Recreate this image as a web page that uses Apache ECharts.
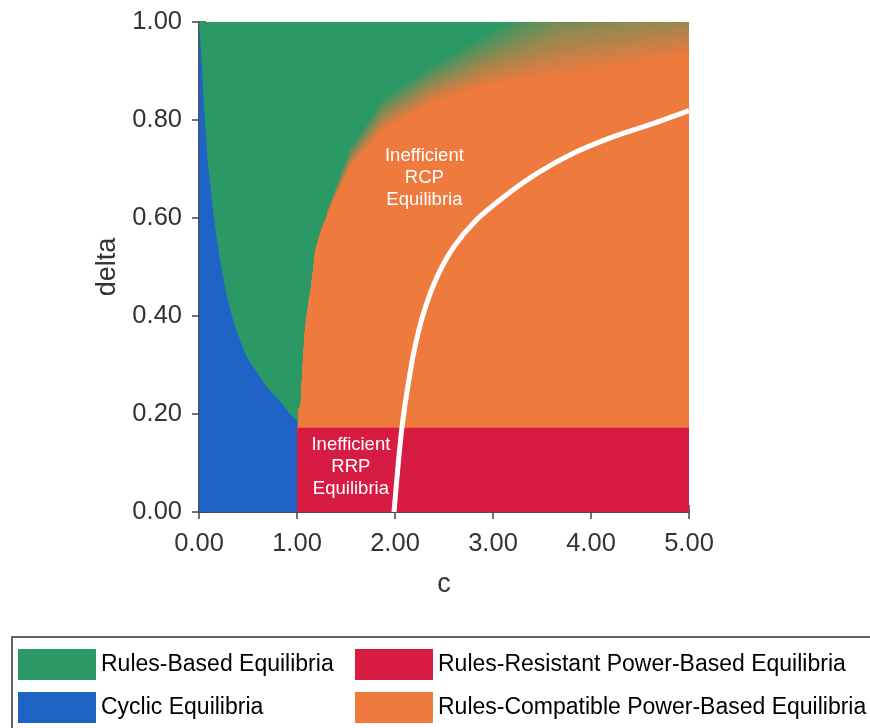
<!DOCTYPE html>
<html>
<head>
<meta charset="utf-8">
<script src="https://cdn.jsdelivr.net/npm/echarts@6/dist/echarts.min.js"></script>
<style>
  html, body { margin: 0; padding: 0; background: #fff; }
  #chart { width: 870px; height: 728px; }
</style>
</head>
<body>
<div id="chart"></div>
<script>
var xTickLabels = ['0.00', '1.00', '2.00', '3.00', '4.00', '5.00'];
var yTickLabels = ['0.00', '0.20', '0.40', '0.60', '0.80', '1.00'];

// left edge of the blue (cyclic) region, c in [0, 1]
var cyclicC = [0, 0.01, 0.03, 0.05, 0.09, 0.12, 0.14, 0.19, 0.24, 0.29, 0.35, 0.42, 0.49, 0.59, 0.69, 0.81, 0.93, 1.0];
var cyclicD = [1.0, 0.97, 0.91, 0.83, 0.71, 0.66, 0.62, 0.545, 0.485, 0.435, 0.39, 0.35, 0.315, 0.285, 0.255, 0.23, 0.2, 0.185];

// sharp part of the green / orange border
var rcpC = [1.0, 1.01, 1.03, 1.05, 1.07, 1.09, 1.14, 1.18, 1.25, 1.3];
var rcpD = [0.172, 0.21, 0.22, 0.30, 0.365, 0.40, 0.467, 0.535, 0.582, 0.605];

// blurred part of the border: where pure green ends and pure orange starts
var blendC = [1.3, 1.54, 1.88, 2.39, 2.9, 3.68, 4.4, 5.0];
var greenEdge = [0.615, 0.745, 0.847, 0.916, 0.975, 1.07, 1.09, 1.09];
var orangeEdge = [0.605, 0.704, 0.78, 0.835, 0.867, 0.89, 0.91, 0.933];

// top of the red (RRP) band
var rrpC = [1.0, 5.0];
var rrpD = [0.172, 0.172];

// white threshold curve
var curveC = [1.99, 2.03, 2.07, 2.12, 2.19, 2.29, 2.43, 2.60, 2.83, 3.11, 3.45, 3.82, 4.23, 4.64, 5.0];
var curveD = [0.0, 0.092, 0.171, 0.242, 0.324, 0.405, 0.48, 0.541, 0.596, 0.643, 0.691, 0.732, 0.766, 0.793, 0.819];

var noteC = [2.3, 1.55];
var noteD = [0.682, 0.092];
var noteText = ['Inefficient\nRCP\nEquilibria', 'Inefficient\nRRP\nEquilibria'];

var GREEN = '#2a9966';
var BLUE = '#1f63c7';
var RED = '#d81b42';
var ORANGE = '#ef7a3e';
var FONT = '"Liberation Sans", Arial, sans-serif';
var BLEND_STEPS = 32;

var chart = echarts.init(document.getElementById('chart'));

function mix(a, b, t) {
  var pa = [parseInt(a.substr(1, 2), 16), parseInt(a.substr(3, 2), 16), parseInt(a.substr(5, 2), 16)];
  var pb = [parseInt(b.substr(1, 2), 16), parseInt(b.substr(3, 2), 16), parseInt(b.substr(5, 2), 16)];
  return 'rgb(' + pa.map(function (v, i) {
    return Math.round(v + (pb[i] - v) * t);
  }).join(',') + ')';
}

function orangeArea(params, api) {
  return {
    type: 'polygon',
    shape: { points: [api.coord([0, 0]), api.coord([5, 0]), api.coord([5, 1]), api.coord([0, 1])] },
    style: { fill: ORANGE }
  };
}

// green region drawn as stacked layers so the blurred border fades into orange
function greenArea(params, api) {
  var layers = [];
  for (var k = 0; k <= BLEND_STEPS; k++) {
    var t = k / BLEND_STEPS;
    var pts = [api.coord([0, 1.2]), api.coord([5, 1.2])];
    for (var i = blendC.length - 1; i >= 0; i--) {
      pts.push(api.coord([blendC[i], orangeEdge[i] + (greenEdge[i] - orangeEdge[i]) * t]));
    }
    for (var j = rcpC.length - 1; j >= 0; j--) {
      pts.push(api.coord([rcpC[j], rcpD[j]]));
    }
    pts.push(api.coord([0, 0]));
    layers.push({
      type: 'polygon',
      shape: { points: pts },
      style: { fill: k === BLEND_STEPS ? GREEN : mix(ORANGE, GREEN, (k + 0.5) / BLEND_STEPS) }
    });
  }
  return { type: 'group', children: layers };
}

function cyclicArea(params, api) {
  var pts = [api.coord([0, 0])];
  for (var i = 0; i < cyclicC.length; i++) {
    pts.push(api.coord([cyclicC[i], cyclicD[i]]));
  }
  pts.push(api.coord([1, 0]));
  return { type: 'polygon', shape: { points: pts }, style: { fill: BLUE } };
}

function rrpArea(params, api) {
  return {
    type: 'polygon',
    shape: { points: [api.coord([rrpC[0], 0]), api.coord([rrpC[1], 0]), api.coord([rrpC[1], rrpD[1]]), api.coord([rrpC[0], rrpD[0]])] },
    style: { fill: RED }
  };
}

function notes(params, api) {
  var i = params.dataIndex;
  var p = api.coord([noteC[i], noteD[i]]);
  return {
    type: 'text',
    x: p[0],
    y: p[1],
    style: {
      text: noteText[i],
      fill: '#fff',
      fontSize: 18.5,
      fontFamily: FONT,
      lineHeight: 22,
      align: 'center',
      verticalAlign: 'middle'
    }
  };
}

var axisLine = { show: true, lineStyle: { color: '#444', width: 1.5 } };
var axisTick = { show: true, length: 7, lineStyle: { color: '#444', width: 1.5 } };

option = {
  animation: false,
  grid: { left: 199, top: 22, width: 490, height: 490 },
  graphic: [{
    type: 'rect',
    shape: { x: 12, y: 637, width: 900, height: 130 },
    style: { fill: 'none', stroke: '#666', lineWidth: 2 },
    z: -1
  }],
  legend: [{
    data: ['Rules-Based Equilibria', 'Cyclic Equilibria'],
    orient: 'vertical',
    left: 13, top: 644,
    itemWidth: 78, itemHeight: 31, itemGap: 12,
    icon: 'rect', selectedMode: false,
    textStyle: { fontSize: 23, fontFamily: FONT, color: '#000' }
  }, {
    data: ['Rules-Resistant Power-Based Equilibria', 'Rules-Compatible Power-Based Equilibria'],
    orient: 'vertical',
    left: 350, top: 644,
    itemWidth: 78, itemHeight: 31, itemGap: 12,
    icon: 'rect', selectedMode: false,
    textStyle: { fontSize: 23, fontFamily: FONT, color: '#000' }
  }],
  xAxis: [{
    type: 'value', min: 0, max: 5, interval: 1, position: 'bottom',
    axisLine: axisLine, axisTick: axisTick, splitLine: { show: false },
    axisLabel: {
      margin: 19, fontSize: 25.5, fontFamily: FONT, color: '#333',
      formatter: function (v) { return xTickLabels[Math.round(v)]; }
    },
    name: 'c', nameLocation: 'middle', nameGap: 59,
    nameTextStyle: { fontSize: 27, fontFamily: FONT, color: '#333' }
  }, {
    type: 'value', min: 0, max: 5, interval: 1, position: 'top',
    axisLine: axisLine, axisTick: axisTick, splitLine: { show: false },
    axisLabel: { show: false }
  }],
  yAxis: [{
    type: 'value', min: 0, max: 1, interval: 0.2, position: 'left',
    axisLine: axisLine, axisTick: axisTick, splitLine: { show: false },
    axisLabel: {
      margin: 17, fontSize: 25.5, fontFamily: FONT, color: '#333',
      formatter: function (v) { return yTickLabels[Math.round(v * 5)]; }
    },
    name: 'delta', nameLocation: 'middle', nameGap: 78,
    nameTextStyle: { fontSize: 27, fontFamily: FONT, color: '#333' }
  }, {
    type: 'value', min: 0, max: 1, interval: 0.2, position: 'right',
    axisLine: axisLine, axisTick: axisTick, splitLine: { show: false },
    axisLabel: { show: false }
  }],
  series: [{
    name: 'Rules-Compatible Power-Based Equilibria',
    type: 'custom', clip: true,
    itemStyle: { color: ORANGE },
    renderItem: orangeArea,
    data: [[0, 0]]
  }, {
    name: 'Rules-Based Equilibria',
    type: 'custom', clip: true,
    itemStyle: { color: GREEN },
    renderItem: greenArea,
    data: [[0, 0]]
  }, {
    name: 'Cyclic Equilibria',
    type: 'custom', clip: true,
    itemStyle: { color: BLUE },
    renderItem: cyclicArea,
    data: [[0, 0]]
  }, {
    name: 'Rules-Resistant Power-Based Equilibria',
    type: 'custom', clip: true,
    itemStyle: { color: RED },
    renderItem: rrpArea,
    data: [[0, 0]]
  }, {
    name: 'threshold',
    type: 'line',
    smooth: 0.25,
    symbol: 'none',
    lineStyle: { color: '#fff', width: 5 },
    data: curveC.map(function (c, i) { return [c, curveD[i]]; }),
    z: 5
  }, {
    name: 'notes',
    type: 'custom',
    renderItem: notes,
    data: noteC.map(function (c, i) { return [c, noteD[i]]; }),
    z: 6
  }]
};

chart.setOption(option);
</script>
</body>
</html>
